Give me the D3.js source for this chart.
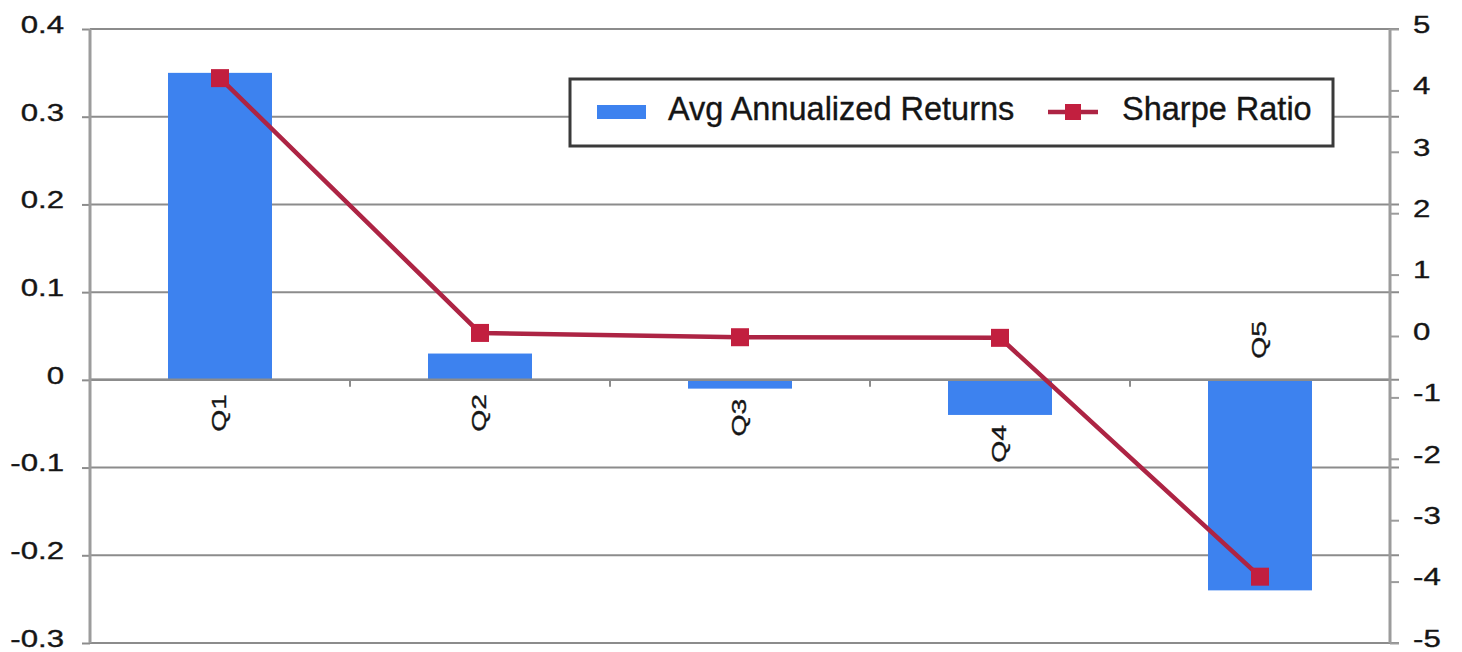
<!DOCTYPE html>
<html>
<head>
<meta charset="utf-8">
<script src="https://cdn.jsdelivr.net/npm/d3@7"></script>
<style>
  html, body { margin: 0; padding: 0; background: #fff; }
  svg { display: block; font-family: "Liberation Sans", Arial, sans-serif; }
  text { stroke: #151515; stroke-width: 0.35px; }
</style>
</head>
<body>
<svg id="chart" width="1462" height="652"></svg>
<script>
const categories = ["Q1", "Q2", "Q3", "Q4", "Q5"];
const avgReturns = [0.35, 0.03, -0.01, -0.04, -0.24];
const sharpeRatio = [4.2, 0.05, -0.02, -0.03, -3.92];
const leftTicks = [0.4, 0.3, 0.2, 0.1, 0, -0.1, -0.2, -0.3];
const leftTickLabels = ["0.4", "0.3", "0.2", "0.1", "0", "-0.1", "-0.2", "-0.3"];
const rightTicks = [5, 4, 3, 2, 1, 0, -1, -2, -3, -4, -5];
const rightTickLabels = ["5", "4", "3", "2", "1", "0", "-1", "-2", "-3", "-4", "-5"];
const seriesNames = ["Avg Annualized Returns", "Sharpe Ratio"];

const svg = d3.select("#chart");
const plot = { left: 90, right: 1390, top: 29, bottom: 643 };
const barColor = "#3d82ef";
const lineColor = "#ad2444";
const markerColor = "#c21f3f";
const gridColor = "#8c8c8c";
const axisColor = "#9c9c9c";
const textColor = "#151515";

const x = d3.scaleBand().domain(categories).range([plot.left, plot.right])
  .paddingInner(0.6).paddingOuter(0.3);
const y = d3.scaleLinear().domain([-0.3, 0.4]).range([plot.bottom, plot.top]);
const y2 = d3.scaleLinear().domain([-5, 5]).range([plot.bottom, plot.top]);

// left ticks
const leftAxis = d3.axisLeft(y).tickValues(leftTicks)
  .tickSize(8).tickSizeOuter(0).tickFormat((d, i) => leftTickLabels[i]);
const gl = svg.append("g").attr("transform", `translate(${plot.left},0)`).call(leftAxis);
gl.select(".domain").remove();
gl.selectAll(".tick line").attr("stroke", gridColor).attr("stroke-width", 2);
gl.selectAll(".tick text").remove();
// gridlines
svg.append("g").selectAll("line").data(leftTicks).join("line")
  .attr("x1", plot.left).attr("x2", plot.right + 9)
  .attr("y1", d => y(d)).attr("y2", d => y(d))
  .attr("stroke", gridColor).attr("stroke-width", 2);

// left tick labels (wide rendering)
svg.append("g").selectAll("text").data(leftTicks).join("text")
  .attr("transform", d => `translate(64,${y(d) + 3.8}) scale(1.3,1)`)
  .attr("text-anchor", "end")
  .attr("font-size", 24).attr("fill", textColor)
  .text((d, i) => leftTickLabels[i]);

// right axis
const rightAxis = d3.axisRight(y2).tickValues(rightTicks).tickSize(9).tickSizeOuter(0)
  .tickFormat((d, i) => rightTickLabels[i]);
const gr = svg.append("g").attr("transform", `translate(${plot.right},0)`).call(rightAxis);
gr.select(".domain").remove();
gr.selectAll(".tick line").attr("stroke", axisColor).attr("stroke-width", 2);
gr.selectAll(".tick text").remove();
svg.append("g").selectAll("text").data(rightTicks).join("text")
  .attr("transform", d => `translate(1413,${y2(d) + 3.8}) scale(1.3,1)`)
  .attr("text-anchor", "start")
  .attr("font-size", 24).attr("fill", textColor)
  .text((d, i) => rightTickLabels[i]);

// bars
svg.append("g").selectAll("rect").data(categories).join("rect")
  .attr("x", d => x(d))
  .attr("width", x.bandwidth())
  .attr("y", (d, i) => Math.min(y(avgReturns[i]), y(0)))
  .attr("height", (d, i) => Math.abs(y(avgReturns[i]) - y(0)))
  .attr("fill", barColor);

// x axis at zero with boundary ticks
const bounds = categories.map(c => x(c) - x.step() * 0.3).concat([plot.right]);
svg.append("line").attr("x1", plot.left).attr("x2", plot.right)
  .attr("y1", y(0)).attr("y2", y(0)).attr("stroke", gridColor).attr("stroke-width", 2.5);
svg.append("g").selectAll("line").data(bounds.slice(1, -1)).join("line")
  .attr("x1", d => d).attr("x2", d => d)
  .attr("y1", y(0)).attr("y2", y(0) + 7)
  .attr("stroke", gridColor).attr("stroke-width", 2);

// axis lines
svg.append("line").attr("x1", plot.left).attr("x2", plot.left)
  .attr("y1", plot.top).attr("y2", plot.bottom).attr("stroke", axisColor).attr("stroke-width", 3);
svg.append("line").attr("x1", plot.right).attr("x2", plot.right)
  .attr("y1", plot.top).attr("y2", plot.bottom).attr("stroke", axisColor).attr("stroke-width", 3);

// category labels (rotated)
svg.append("g").selectAll("text").data(categories).join("text")
  .attr("transform", (d, i) => {
    const cx = x(d) + x.bandwidth() / 2 - 2;
    const v = avgReturns[i];
    if (v < -0.1) {
      return `translate(${cx},${y(0) - 21}) rotate(-90) scale(1.35,1)`;
    }
    const top = Math.max(y(0) + 14, Math.max(y(v), y(0)) + 10);
    return `translate(${cx},${top}) rotate(-90) scale(1.35,1)`;
  })
  .attr("text-anchor", (d, i) => avgReturns[i] < -0.1 ? "start" : "end")
  .attr("dy", "0.36em")
  .attr("font-size", 21).attr("fill", textColor)
  .text(d => d);

// sharpe line
const pts = categories.map((c, i) => [x(c) + x.bandwidth() / 2, y2(sharpeRatio[i])]);
svg.append("path").attr("d", d3.line()(pts))
  .attr("fill", "none").attr("stroke", lineColor).attr("stroke-width", 4.5);
const ms = 18;
svg.append("g").selectAll("rect").data(pts).join("rect")
  .attr("x", d => d[0] - ms / 2).attr("y", d => d[1] - ms / 2)
  .attr("width", ms).attr("height", ms).attr("fill", markerColor);

// legend
const lg = svg.append("g");
lg.append("rect").attr("x", 570).attr("y", 79).attr("width", 763).attr("height", 67)
  .attr("fill", "#fff").attr("stroke", "#3a3a3a").attr("stroke-width", 3);
lg.append("rect").attr("x", 597).attr("y", 105).attr("width", 49).attr("height", 14).attr("fill", barColor);
lg.append("text").attr("x", 668).attr("y", 120).attr("font-size", 32.5).attr("fill", textColor).text(seriesNames[0]);
lg.append("line").attr("x1", 1048).attr("x2", 1098).attr("y1", 112).attr("y2", 112)
  .attr("stroke", lineColor).attr("stroke-width", 4.5);
lg.append("rect").attr("x", 1073 - 8).attr("y", 112 - 8).attr("width", 16).attr("height", 16).attr("fill", markerColor);
lg.append("text").attr("x", 1122).attr("y", 120).attr("font-size", 32.5).attr("fill", textColor).text(seriesNames[1]);
</script>
</body>
</html>
